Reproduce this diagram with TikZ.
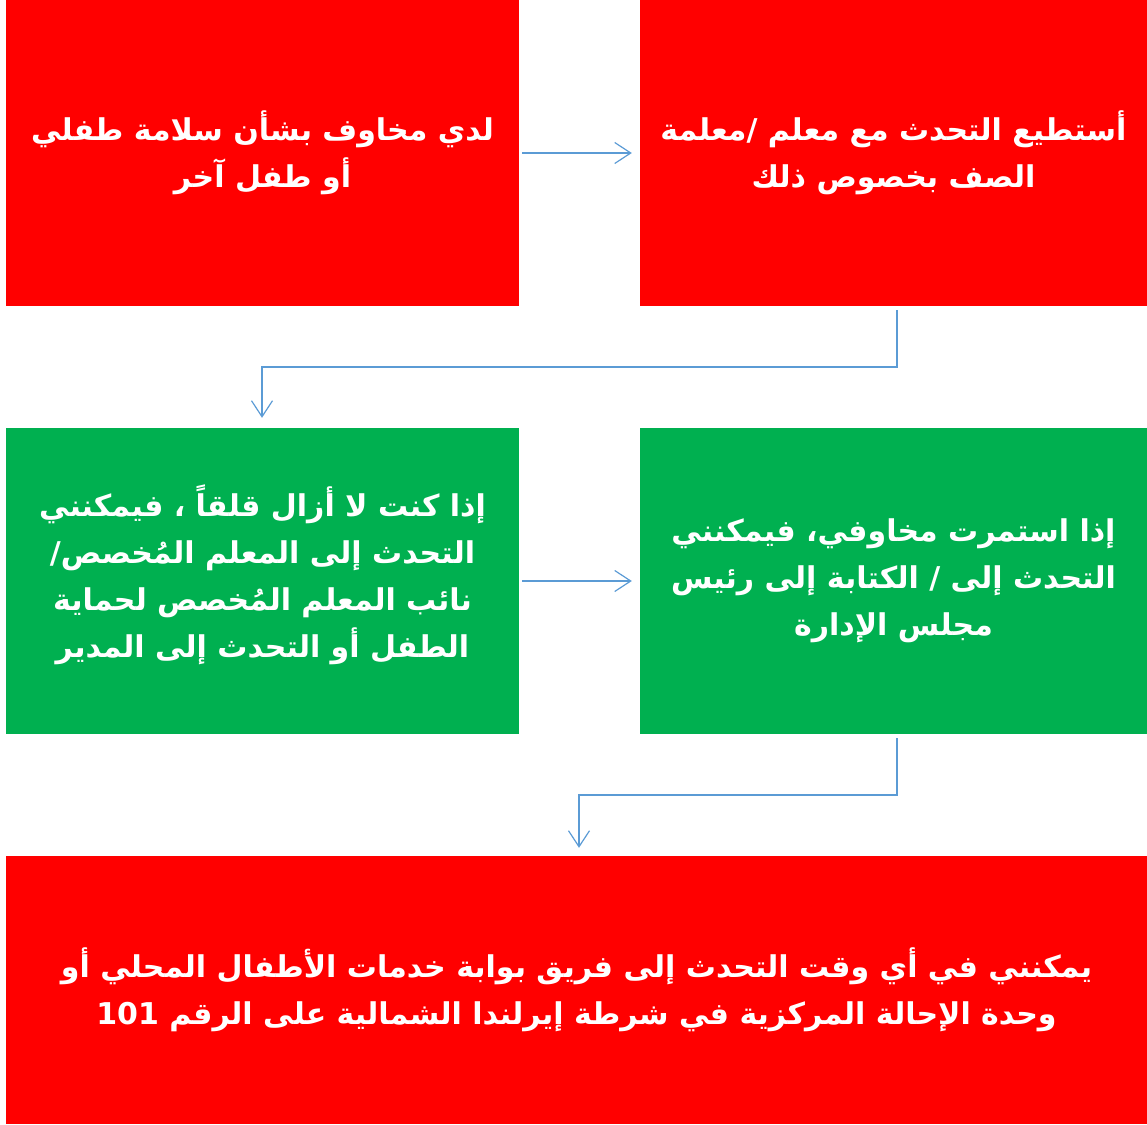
\documentclass[tikz,border=0pt]{standalone}
\usepackage{fontspec}
\usetikzlibrary{arrows.meta}
\TeXXeTstate=1
\newfontfamily\arabicfont[Script=Arabic]{DejaVu Sans}
\definecolor{boxred}{HTML}{FF0000}
\definecolor{boxgreen}{HTML}{00B050}
\definecolor{linkblue}{HTML}{5B9BD5}
\newcommand{\rl}[1]{\beginR #1\endR}
\begin{document}
\begin{tikzpicture}[x=1pt,y=-1pt,
  box/.style={draw=none, inner sep=0pt, align=center, text=white,
    font=\arabicfont\bfseries\fontsize{30}{47}\selectfont},
  redbox/.style={box, fill=boxred},
  greenbox/.style={box, fill=boxgreen},
  link/.style={draw=linkblue, line width=1.2pt, -{Straight Barb[length=16pt,width=21pt,line width=1.2pt]}}]
\useasboundingbox (0,0) rectangle (1147,1124);
\node[redbox, minimum width=513pt, minimum height=306pt] (a) at (262.5,153)
  {\rl{لدي مخاوف بشأن سلامة طفلي}\\\rl{أو طفل آخر}};
\node[redbox, minimum width=507pt, minimum height=306pt] (b) at (893.5,153)
  {\rl{أستطيع التحدث مع معلم /معلمة}\\\rl{الصف بخصوص ذلك}};
\node[greenbox, minimum width=513pt, minimum height=306pt] (c) at (262.5,581)
  {\rl{إذا كنت لا أزال قلقاً ، فيمكنني}\\\rl{التحدث إلى المعلم المُخصص/}\\\rl{نائب المعلم المُخصص لحماية}\\\rl{الطفل أو التحدث إلى المدير}\\[-27pt]\mbox{}};
\node[greenbox, minimum width=507pt, minimum height=306pt] (d) at (893.5,581)
  {\rl{إذا استمرت مخاوفي، فيمكنني}\\\rl{التحدث إلى / الكتابة إلى رئيس}\\\rl{مجلس الإدارة}};
\node[redbox, minimum width=1141pt, minimum height=268pt] (e) at (576.5,990)
  {\rl{يمكنني في أي وقت التحدث إلى فريق بوابة خدمات الأطفال المحلي أو}\\\rl{وحدة الإحالة المركزية في شرطة إيرلندا الشمالية على الرقم 101}};
\coordinate (bc1) at (897,367);
\coordinate (bc2) at (262,367);
\coordinate (de1) at (897,795);
\coordinate (de2) at (579,795);
\draw[link] ([xshift=3pt]a.east) -- ([xshift=-8pt]b.west);
\draw[link] ([xshift=3.5pt,yshift=-4pt]b.south) -- (bc1) -- (bc2) -- ([xshift=-0.5pt,yshift=10pt]c.north);
\draw[link] ([xshift=3pt]c.east) -- ([xshift=-8pt]d.west);
\draw[link] ([xshift=3.5pt,yshift=-4pt]d.south) -- (de1) -- (de2) -- ([xshift=2.5pt,yshift=8pt]e.north);
\end{tikzpicture}
\end{document}
